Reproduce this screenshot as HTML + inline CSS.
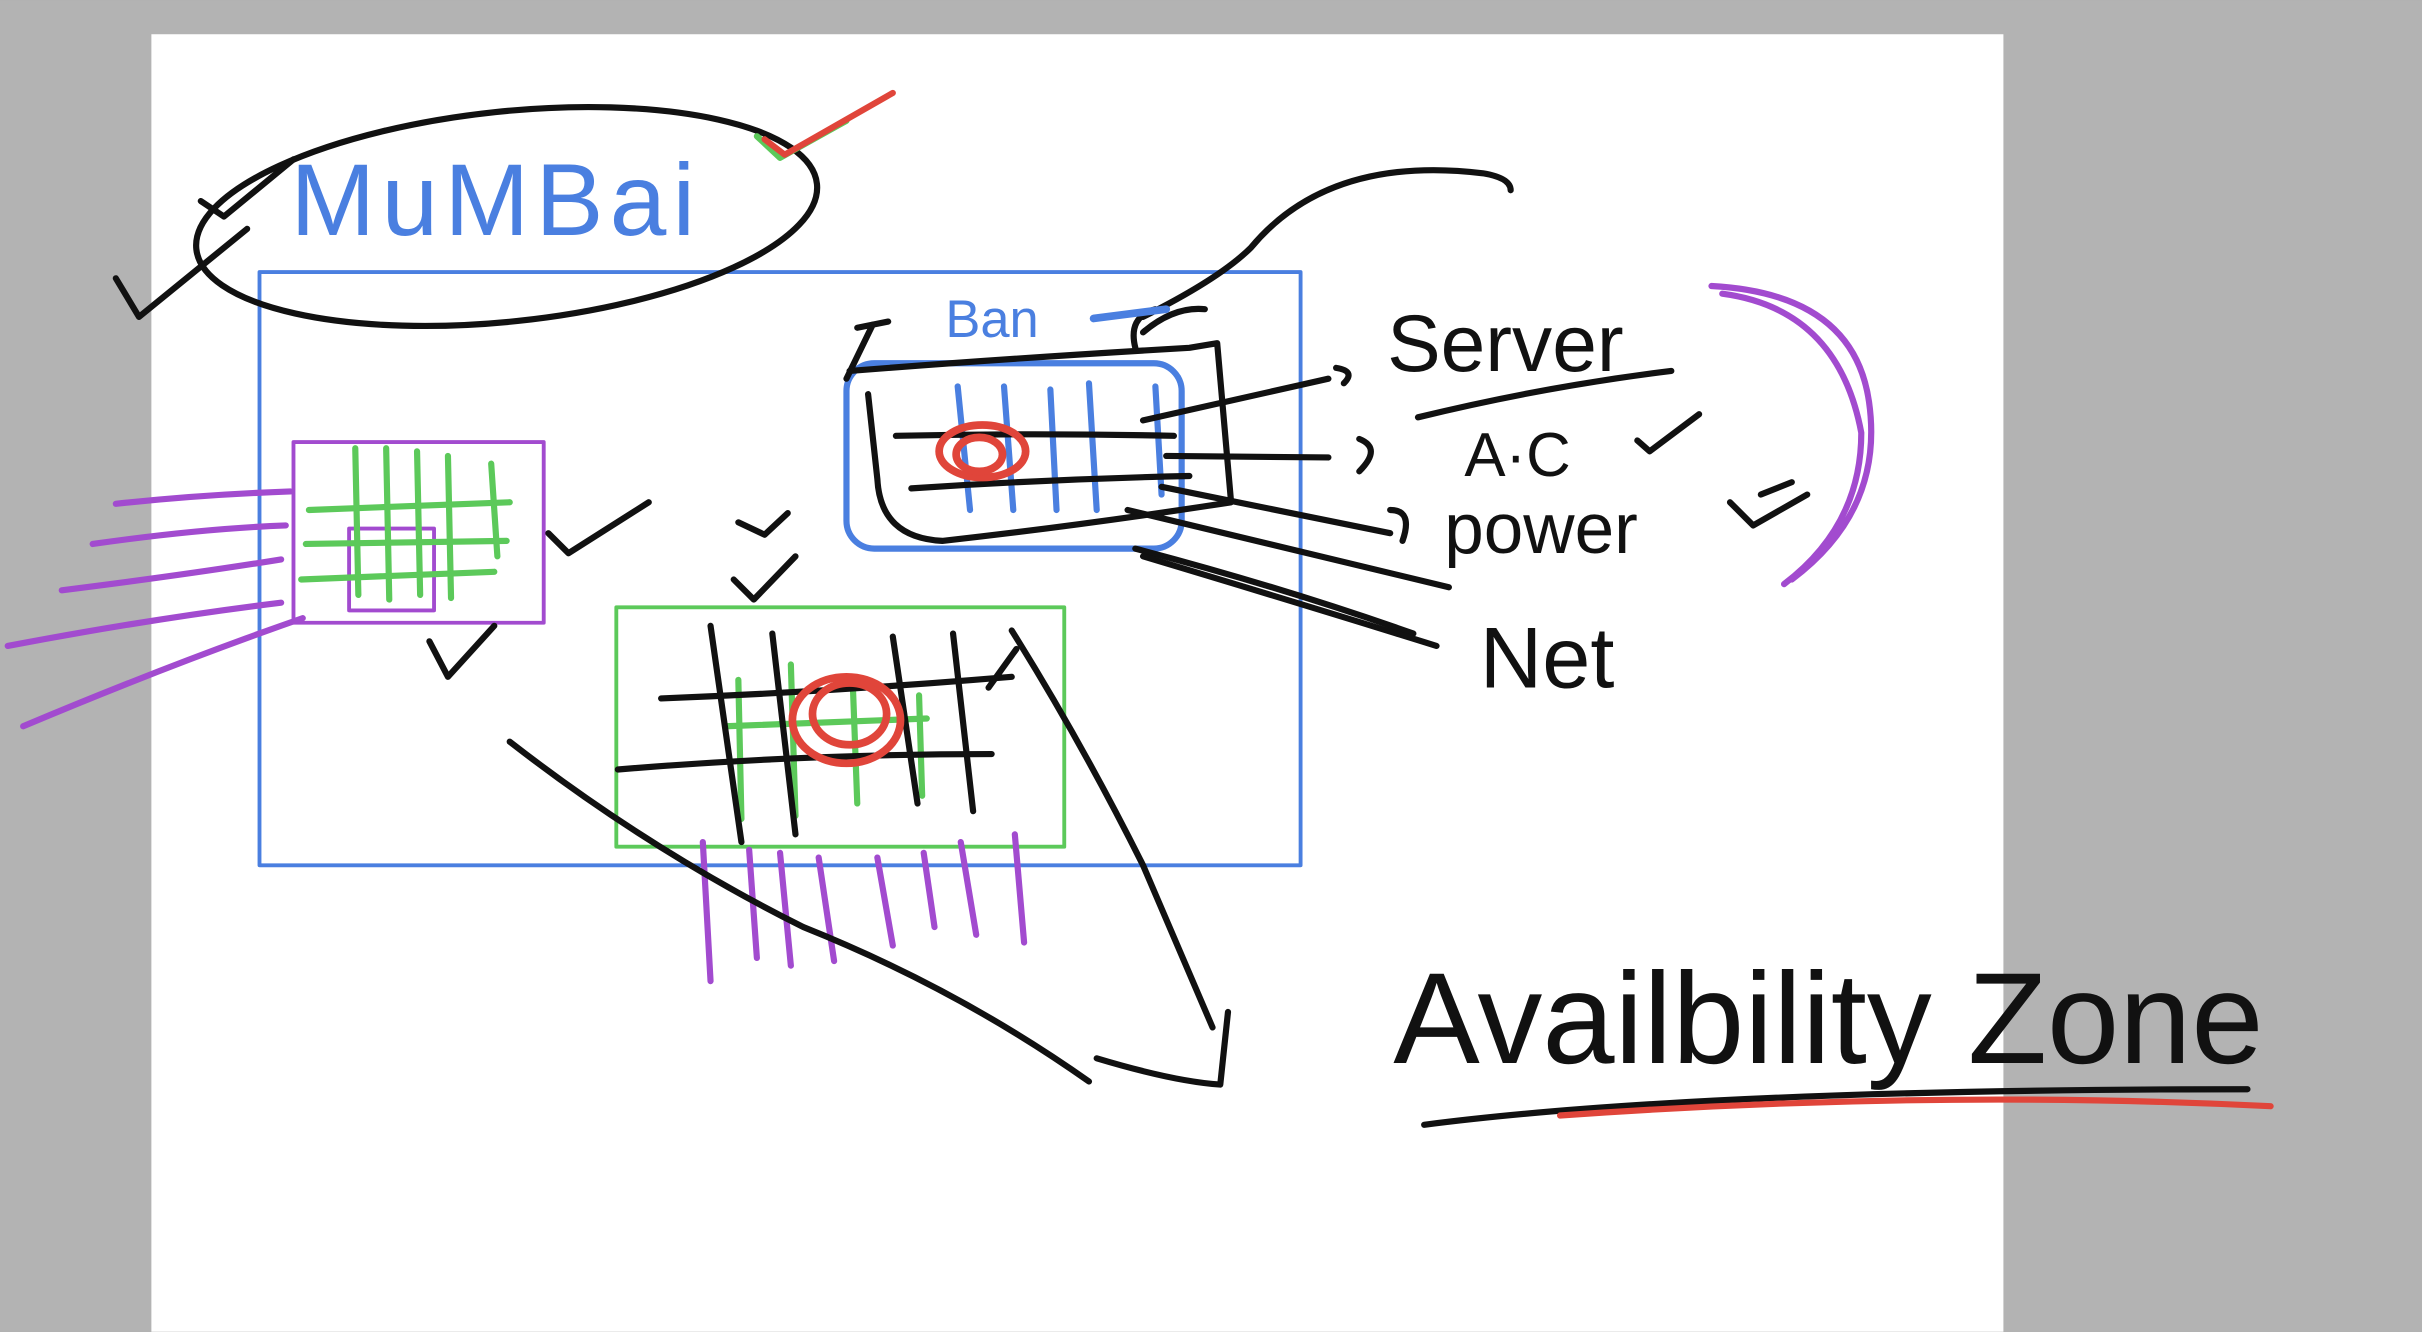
<!DOCTYPE html>
<html><head><meta charset="utf-8">
<style>
html,body{margin:0;padding:0;background:#b3b3b3;}
svg{display:block;}
text{font-family:"Liberation Sans",sans-serif;}
</style></head>
<body>
<svg width="2422" height="1332" viewBox="0 0 1568 862" xmlns="http://www.w3.org/2000/svg" fill="none" stroke-linecap="round" stroke-linejoin="round">
<rect x="0" y="0" width="1568" height="862" fill="#b3b3b3" stroke="none"/>
<rect x="98" y="22" width="1199" height="840" fill="#ffffff" stroke="none"/>

<!-- region box -->
<rect x="168" y="176" width="674" height="384" stroke="#4a7fe0" stroke-width="2.5"/>
<!-- purple AZ box -->
<g>
<rect x="190" y="286" width="162" height="117" stroke="#a24bcf" stroke-width="2.5"/>
<rect x="226" y="342" width="55" height="53" stroke="#a24bcf" stroke-width="2.5"/>
<g stroke="#5cc95a" stroke-width="4">
<path d="M200 330 L330 325"/><path d="M198 352 L328 350"/><path d="M195 375 L320 370"/>
<path d="M230 290 L232 385"/><path d="M250 290 L252 388"/><path d="M270 292 L272 385"/><path d="M290 295 L292 387"/><path d="M318 300 L322 360"/>
</g>
<g stroke="#a24bcf" stroke-width="4">
<path d="M75 326 Q130 320 188 318"/><path d="M60 352 Q130 342 185 340"/><path d="M40 382 Q120 372 182 362"/><path d="M5 418 Q100 400 182 390"/><path d="M15 470 Q110 430 196 400"/>
</g>
</g>
<!-- green AZ box -->
<g>
<rect x="399" y="393" width="290" height="155" stroke="#5cc95a" stroke-width="2.5"/>
<g stroke="#5cc95a" stroke-width="4">
<path d="M478 440 L480 530"/><path d="M512 430 L515 528"/><path d="M552 440 L555 520"/><path d="M595 450 L597 515"/>
<path d="M470 470 L600 465"/>
</g>
<g stroke="#111" stroke-width="4">
<path d="M428 452 Q530 448 630 440 L655 438"/><path d="M400 498 Q520 488 642 488"/>
<path d="M460 405 L480 545"/><path d="M500 410 L515 540"/><path d="M578 412 L594 520"/><path d="M617 410 L630 525"/><path d="M640 445 L658 420"/>
</g>
<g stroke="#a24bcf" stroke-width="4">
<path d="M455 545 L460 635"/><path d="M485 550 L490 620"/><path d="M505 552 L512 625"/><path d="M530 555 L540 622"/><path d="M568 555 L578 612"/><path d="M598 552 L605 600"/><path d="M622 545 L632 605"/><path d="M657 540 L663 610"/>
</g>
<g stroke="#e0453a" stroke-width="5">
<ellipse cx="548" cy="466" rx="35" ry="28"/><ellipse cx="550" cy="462" rx="24" ry="20"/>
</g>
</g>
<!-- data center box -->
<g>
<rect x="548" y="235" width="217" height="120" rx="18" stroke="#4a7fe0" stroke-width="4"/>
<g stroke="#4a7fe0" stroke-width="4">
<path d="M620 250 L628 330"/><path d="M650 250 L656 330"/><path d="M680 252 L684 330"/><path d="M705 248 L710 330"/><path d="M748 250 L752 320"/>
</g>
<g stroke="#111" stroke-width="4">
<path d="M550 240 Q650 232 770 225 L788 222 L797 325 Q700 340 610 350 Q570 348 568 310 L562 255"/>
<path d="M580 282 Q670 280 760 282"/><path d="M590 316 Q680 310 770 308"/>
<path d="M740 272 L860 245"/><path d="M755 295 L860 296"/><path d="M752 315 L900 345"/><path d="M730 330 L938 380"/><path d="M735 355 Q830 380 915 410"/><path d="M740 360 Q840 390 930 418"/>
<path d="M548 245 L565 210"/><path d="M555 212 L575 208"/>
<path d="M735 225 Q730 205 748 200 M740 215 Q760 198 780 200"/>
<path d="M740 205 Q790 180 810 160 Q860 100 960 112 Q978 115 978 123"/>
<path d="M865 238 Q878 240 870 248 M880 284 Q895 290 880 305 M900 330 Q915 330 908 350"/>
</g>
<g stroke="#e0453a" stroke-width="5">
<ellipse cx="636" cy="292" rx="28" ry="17"/><ellipse cx="634" cy="294" rx="15" ry="11"/>
</g>
<text x="612" y="218" font-size="34" fill="#4a7fe0" stroke="none">Ban</text>
<path d="M708 206 L755 200" stroke="#4a7fe0" stroke-width="5"/>
</g>
<!-- mumbai -->
<g>
<ellipse cx="328" cy="140" rx="202" ry="68" transform="rotate(-6 328 140)" stroke="#111" stroke-width="4"/>
<text x="188" y="152" font-size="66" fill="#4a7fe0" stroke="none" letter-spacing="4">MuMBai</text>
<path d="M490 88 L505 102 L548 78" stroke="#5cc95a" stroke-width="4"/>
<path d="M495 90 L508 100 L578 60" stroke="#e0453a" stroke-width="4"/>
<path d="M75 180 L90 205 L160 148 M130 130 L145 140 L190 103" stroke="#111" stroke-width="4"/>
</g>
<!-- checks -->
<g stroke="#111" stroke-width="4">
<path d="M355 345 L368 358 L420 325"/><path d="M278 415 L290 438 L320 405"/><path d="M475 375 L488 388 L515 360"/><path d="M478 338 L495 346 L510 332"/>
<path d="M1060 285 L1068 292 L1100 268"/><path d="M1120 325 L1135 340 L1170 320 M1140 320 L1160 312"/>
</g>
<!-- arrow -->
<g stroke="#111" stroke-width="4">
<path d="M330 480 Q420 550 520 600 Q620 640 705 700"/>
<path d="M655 408 Q700 480 740 560 Q770 630 785 665"/>
<path d="M710 685 Q760 700 790 702 L795 655"/>
</g>
<!-- resource labels -->
<g fill="#111" stroke="none">
<text x="898" y="240" font-size="52">Server</text>
<text x="948" y="308" font-size="40">A·C</text>
<text x="935" y="358" font-size="46">power</text>
<text x="958" y="445" font-size="56">Net</text>
</g>
<path d="M918 270 Q1000 250 1082 240" stroke="#111" stroke-width="4"/>
<path d="M1108 185 Q1200 190 1210 260 Q1220 330 1160 375 M1115 190 Q1190 200 1205 280 Q1205 340 1155 378" stroke="#a24bcf" stroke-width="4"/>
<!-- availability zone -->
<g>
<text x="902" y="688" font-size="84" fill="#111" stroke="none">Availbility Zone</text>
<path d="M922 728 Q1100 705 1455 705" stroke="#111" stroke-width="4"/>
<path d="M1010 722 Q1250 705 1470 716" stroke="#e0453a" stroke-width="4"/>
</g>
</svg>
</body></html>
